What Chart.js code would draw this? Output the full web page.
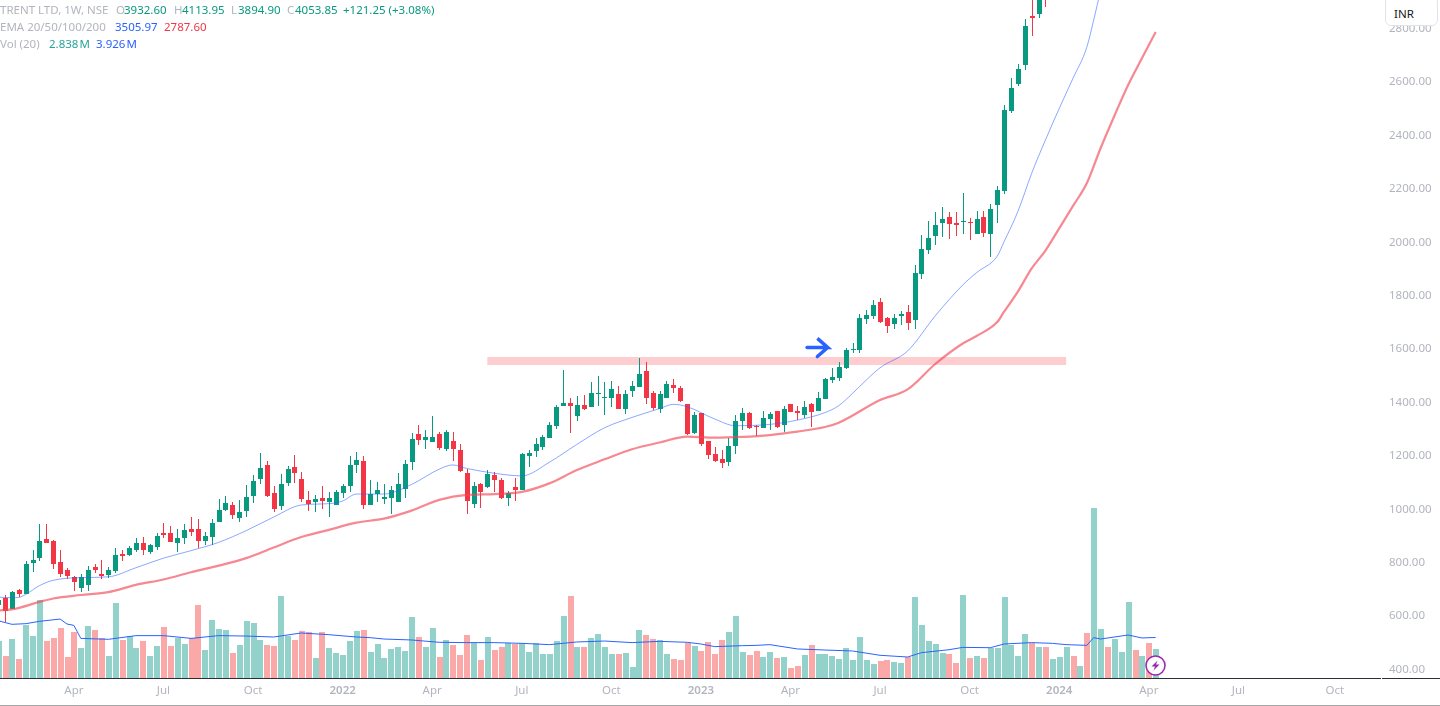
<!DOCTYPE html>
<html>
<head>
<meta charset="utf-8">
<title>TRENT LTD 1W</title>
<script src="https://cdn.jsdelivr.net/npm/chart.js@4"></script>
<style>
    html, body { margin: 0; padding: 0; background: #fff; overflow: hidden; }
    #wrap { position: relative; width: 1440px; height: 706px; font-family: "Noto Sans", sans-serif; }
    canvas { position: absolute; left: 0; top: 0; }
    .lg { position: absolute; font-size: 11.5px; line-height: 16px; white-space: nowrap; color: #b2b5be; }
    .g { color: #089981; }
    .t { color: #26a69a; word-spacing: -2px; }
    .b { color: #2962ff; word-spacing: -2px; }
    .r { color: #f23645; }
    #inr { position: absolute; left: 1385px; top: -4px; width: 51px; height: 28px; background: #fff; border: 1px solid #e0e3eb;
           border-radius: 6px; font-size: 11.5px; line-height: 34px; color: #131722; text-indent: 8px; }
    .rule { position: absolute; height: 1px; background: #2a2e39; top: 678px; }
    #foot { position: absolute; left: 0; top: 705px; width: 1440px; height: 1px; background: #a8a8a8; }
    #bolt { position: absolute; left: 1145px; top: 655px; }
</style>
</head>
<body>
<div id="wrap">
    <canvas id="grafico" width="1440" height="706"></canvas>

    <span class="lg" style="left:0;top:2px">TRENT LTD, 1W, NSE</span>
    <span class="lg" style="left:116px;top:2px">O</span><span class="lg g" style="left:124px;top:2px">3932.60</span>
    <span class="lg" style="left:174px;top:2px">H</span><span class="lg g" style="left:182px;top:2px">4113.95</span>
    <span class="lg" style="left:231px;top:2px">L</span><span class="lg g" style="left:238px;top:2px">3894.90</span>
    <span class="lg" style="left:287px;top:2px">C</span><span class="lg g" style="left:295px;top:2px">4053.85</span>
    <span class="lg g" style="left:343px;top:2px">+121.25 (+3.08%)</span>

    <span class="lg" style="left:0;top:19px">EMA 20/50/100/200</span>
    <span class="lg b" style="left:115px;top:19px">3505.97</span>
    <span class="lg r" style="left:164px;top:19px">2787.60</span>

    <span class="lg" style="left:0;top:36px">Vol (20)</span>
    <span class="lg t" style="left:49px;top:36px">2.838 M</span>
    <span class="lg b" style="left:96px;top:36px">3.926 M</span>

    <div id="inr">INR</div>
    <div class="rule" style="left:0;width:1381px"></div>
    <div class="rule" style="left:1382px;width:58px"></div>
    <div id="foot"></div>

    <svg id="bolt" width="21" height="21" viewBox="0 0 21 21">
        <circle cx="10.5" cy="10.5" r="9.5" fill="#fff" stroke="#9c27b0" stroke-width="1.6"/>
        <path d="M12.5 5.5 L6.5 11.5 H10 L8.5 15.5 L14.5 9.5 H11 Z" fill="#9c27b0"/>
    </svg>
</div>

<script>
// weekly candles, oldest first. null = week is above the top of the picture
const opens = [
    641, 668, 626, 698, 683, 799, 817, 888, 881, 802,
    772, 746, 705, 716, 784, 757, 754, 769, 832, 829,
    847, 873, 840, 859, 911, 911, 873, 892, 926, 926,
    881, 896, 952, 997, 1016, 967, 993, 1049, 1113, 1166,
    1061, 1012, 1098, 1158, 1113, 1035, 1027, 1042, 1027, 1016,
    1061, 1087, 1166, 1181, 1016, 1057, 1039, 1042, 1027, 1076,
    1177, 1282, 1259, 1252, 1282, 1226, 1256, 1222, 1136, 1020,
    1095, 1084, 1128, 1110, 1042, 1084, 1072, 1200, 1218, 1233,
    1267, 1312, 1387, 1398, 1349, 1391, 1383, 1432, 1417, 1417,
    1432, 1376, 1443, 1458, 1518, 1436, 1376, 1417, 1466, 1454,
    1394, 1286, 1361, 1256, 1207, 1188, 1177, 1237, 1331, 1361,
    1311, 1305, 1338, 1368, 1316, 1394, 1368, 1353, 1394, 1368,
    1413, 1484, 1492, 1529, 1597, 1597, 1713, 1724, 1776, 1716,
    1694, 1724, 1739, 1709, 1881, 1971, 2023, 2072, 2094, 2072,
    2076, 2076, 2031, 2094, 2031, 2139, 2192, 2491, 2593, 2664,
    2847, 2855, 3030, null, null, null, null, null, null, null,
    null, null, null, null, null, null, null, null, 3932.60
];
const highs = [
    672, 679, 694, 701, 807, 847, 945, 945, 885, 847,
    780, 750, 757, 787, 795, 810, 784, 855, 847, 862,
    892, 896, 870, 911, 948, 937, 926, 945, 971, 963,
    915, 963, 1038, 1049, 1027, 1034, 1091, 1128, 1210, 1180,
    1087, 1132, 1162, 1203, 1140, 1069, 1054, 1087, 1065, 1072,
    1095, 1200, 1215, 1200, 1110, 1102, 1095, 1087, 1136, 1185,
    1286, 1316, 1297, 1349, 1289, 1297, 1289, 1245, 1151, 1102,
    1098, 1147, 1140, 1117, 1069, 1117, 1211, 1222, 1267, 1278,
    1327, 1391, 1522, 1417, 1424, 1428, 1477, 1499, 1477, 1480,
    1462, 1447, 1480, 1567, 1552, 1443, 1443, 1480, 1488, 1462,
    1394, 1364, 1361, 1256, 1233, 1222, 1267, 1353, 1379, 1364,
    1316, 1368, 1364, 1368, 1387, 1394, 1387, 1406, 1398, 1439,
    1492, 1529, 1552, 1604, 1623, 1731, 1746, 1784, 1791, 1720,
    1731, 1743, 1765, 1915, 2027, 2079, 2113, 2132, 2113, 2113,
    2184, 2091, 2117, 2117, 2143, 2211, 2514, 2615, 2667, 2836,
    2930, 2960, 3050, null, null, null, null, null, null, null,
    null, null, null, null, null, null, null, null, 4113.95
];
const lows = [
    630, 578, 626, 673, 683, 765, 806, 873, 776, 746,
    739, 694, 690, 694, 761, 739, 742, 761, 806, 825,
    840, 829, 832, 847, 892, 877, 840, 870, 900, 855,
    866, 866, 952, 993, 963, 952, 971, 1023, 1094, 1046,
    990, 997, 1087, 1098, 1027, 994, 990, 1001, 971, 1016,
    1042, 1065, 1136, 1001, 1016, 1027, 1020, 982, 1027, 1042,
    1147, 1241, 1226, 1252, 1222, 1218, 1181, 1140, 982, 1005,
    1005, 1080, 1065, 1039, 1012, 1031, 1072, 1158, 1196, 1222,
    1267, 1301, 1387, 1286, 1331, 1372, 1383, 1387, 1353, 1383,
    1376, 1357, 1421, 1458, 1394, 1372, 1361, 1417, 1436, 1402,
    1278, 1282, 1237, 1188, 1177, 1155, 1162, 1207, 1297, 1301,
    1275, 1305, 1297, 1305, 1290, 1364, 1334, 1342, 1308, 1368,
    1413, 1473, 1480, 1525, 1585, 1585, 1694, 1713, 1698, 1660,
    1675, 1690, 1671, 1675, 1862, 1956, 1990, 2020, 2012, 2023,
    2031, 2008, 2031, 2020, 1945, 2072, 2181, 2484, 2585, 2645,
    2772, 2840, 2881, null, null, null, null, null, null, null,
    null, null, null, null, null, null, null, null, 3894.90
];
const closes = [
    660, 620, 690, 683, 795, 810, 881, 873, 795, 757,
    750, 727, 746, 772, 772, 750, 772, 829, 825, 855,
    873, 847, 866, 900, 903, 877, 892, 922, 915, 881,
    900, 948, 997, 1023, 978, 990, 1046, 1106, 1154, 1049,
    1001, 1094, 1151, 1136, 1039, 1020, 1039, 1031, 1042, 1065,
    1087, 1166, 1185, 1016, 1057, 1072, 1046, 1072, 1095, 1170,
    1263, 1259, 1271, 1271, 1230, 1289, 1226, 1143, 1031, 1087,
    1065, 1132, 1110, 1042, 1061, 1072, 1207, 1211, 1245, 1271,
    1316, 1383, 1398, 1387, 1391, 1376, 1436, 1436, 1421, 1451,
    1376, 1432, 1462, 1507, 1417, 1379, 1432, 1469, 1454, 1406,
    1282, 1353, 1245, 1203, 1181, 1173, 1237, 1331, 1361, 1305,
    1307, 1342, 1357, 1308, 1376, 1364, 1361, 1383, 1364, 1417,
    1488, 1495, 1533, 1597, 1600, 1716, 1728, 1765, 1701, 1686,
    1716, 1731, 1698, 1885, 1975, 2016, 2065, 2087, 2068, 2065,
    2079, 2072, 2087, 2035, 2124, 2196, 2495, 2578, 2649, 2810,
    2840, 2940, 2960, null, null, null, null, null, null, null,
    null, null, null, null, null, null, null, null, 4053.85
];

// volume in millions, one per week
const volumes = [
    3.63, 2.21, 3.81, 1.92, 5.14, 4.10, 7.50, 3.63, 3.91, 4.86,
    2.11, 4.48, 2.96, 5.04, 4.67, 3.91, 2.21, 7.22, 3.72, 4.10,
    2.96, 3.63, 2.21, 3.15, 4.95, 3.15, 3.91, 3.34, 3.91, 7.03,
    2.77, 5.61, 4.76, 4.67, 2.49, 3.25, 5.52, 5.33, 3.72, 3.25,
    3.15, 7.88, 4.10, 3.72, 4.57, 4.48, 2.02, 4.48, 2.96, 2.49,
    2.30, 3.63, 4.57, 4.67, 2.59, 3.34, 2.02, 2.87, 3.06, 2.68,
    5.89, 4.00, 3.06, 4.86, 2.11, 3.72, 3.25, 2.30, 4.19, 3.44,
    1.83, 4.00, 2.77, 3.06, 3.44, 3.34, 3.44, 2.59, 3.44, 2.39,
    2.39, 3.63, 5.99, 7.88, 3.06, 3.06, 3.91, 4.29, 3.06, 2.39,
    2.39, 2.49, 1.17, 4.67, 4.19, 3.81, 3.72, 2.39, 1.92, 1.83,
    3.44, 3.15, 2.68, 3.53, 2.39, 3.72, 4.48, 5.99, 2.59, 2.30,
    2.68, 2.11, 2.59, 2.02, 2.11, 1.07, 1.26, 2.30, 3.25, 2.39,
    2.39, 2.21, 1.92, 2.96, 1.83, 4.00, 1.83, 1.45, 1.73, 1.83,
    1.64, 1.54, 2.11, 7.78, 5.14, 3.63, 3.34, 2.49, 2.39, 1.54,
    7.97, 2.02, 2.21, 2.02, 2.96, 2.96, 7.78, 3.25, 2.21, 4.29,
    3.44, 3.06, 3.06, 1.92, 2.11, 3.06, 2.21, 1.26, 4.38, 16.2,
    4.76, 3.06, 3.81, 2.59, 7.31, 2.77, 2.21, 3.44, 2.84
];
// weeks whose volume bar is red
const downWeeks = [
    1, 3, 7, 8, 9, 10, 11, 14, 15, 18, 21, 24, 25, 28, 29, 34, 39, 40, 43, 44, 45, 47, 53, 61, 64, 66, 67, 68, 70, 72,
    73, 75, 83, 85, 90, 94, 95, 98, 99, 100, 102, 103, 104, 105, 109, 110, 113, 115, 116, 118, 128, 129, 132, 138, 139,
    141, 143, 150, 152, 156, 158, 161, 165, 167
];

const emaFastWeeks = [0, 2, 3, 4, 6, 8, 12, 16, 20, 24, 28, 32, 36, 40, 44, 48, 50, 52, 56, 60, 64, 66, 68, 72, 76, 80, 84, 88, 92, 96, 98, 100, 104, 107, 112, 116, 120, 122, 124, 126, 128, 132, 136, 140, 142, 145, 146, 148, 150, 152, 154, 156, 158, 159, 160, 168];
const emaFast = [671, 669, 670, 681, 714, 734, 744, 747, 781, 817, 845, 876, 920, 971, 1016, 1021, 1031, 1057, 1057, 1093, 1150, 1166, 1153, 1135, 1125, 1176, 1243, 1305, 1344, 1377, 1393, 1384, 1338, 1313, 1318, 1334, 1362, 1388, 1434, 1484, 1530, 1593, 1724, 1840, 1886, 1948, 2002, 2115, 2258, 2383, 2501, 2614, 2730, 2832, 2938, 3505.97];

// EMA 200
const emaSlowWeeks = [0, 2, 6, 8, 12, 16, 20, 24, 28, 32, 36, 40, 44, 48, 52, 56, 60, 64, 68, 72, 76, 80, 84, 88, 92, 96, 100, 104, 108, 112, 116, 120, 122, 128, 132, 136, 140, 142, 145, 146, 148, 150, 152, 154, 156, 158, 160, 162, 164, 166, 168];
const emaSlow = [621, 625, 653, 666, 679, 690, 717, 737, 764, 789, 817, 857, 896, 923, 950, 965, 995, 1035, 1054, 1057, 1065, 1097, 1147, 1187, 1225, 1250, 1272, 1268, 1271, 1278, 1291, 1308, 1324, 1409, 1449, 1544, 1621, 1649, 1701, 1740, 1815, 1902, 1969, 2052, 2136, 2221, 2352, 2473, 2589, 2689, 2787.60];

// Vol 20 average, millions
const volMaWeeks = [0, 2, 4, 6, 9, 10, 11, 12, 16, 20, 24, 28, 32, 36, 40, 44, 48, 52, 54, 56, 60, 64, 68, 72, 76, 80, 84, 88, 92, 96, 100, 102, 104, 108, 110, 112, 116, 120, 124, 128, 132, 134, 138, 140, 144, 146, 150, 153, 155, 158, 159, 160, 164, 166, 168];
const volMa = [5.51, 5.17, 5.23, 5.45, 5.67, 5.20, 5.07, 3.84, 3.75, 4.10, 4.10, 3.84, 4.10, 4.06, 3.97, 4.35, 4.19, 3.97, 3.91, 3.78, 3.69, 3.47, 3.44, 3.44, 3.37, 3.25, 3.50, 3.59, 3.44, 3.56, 3.47, 3.31, 3.06, 3.15, 3.18, 3.25, 2.84, 2.74, 2.65, 2.24, 2.08, 2.49, 2.77, 2.99, 2.96, 3.31, 3.44, 3.37, 3.25, 3.18, 3.91, 3.78, 4.16, 3.88, 3.926];

// resistance band and the arrow pointing at the breakout
const zoneWeeks = [71, 155];
const zonePrice = [1555, 1555];
const arrowWeeks = [117.4, 120.4, 118.9, 120.4, 118.9];
const arrowPrices = [1606, 1606, 1640, 1606, 1572];

// bottom and right axes
const xTickWeeks = [11, 24, 37, 50, 63, 76, 89, 102, 115, 128, 141, 154, 167, 180, 194];
const xTickLabels = ['Apr', 'Jul', 'Oct', '2022', 'Apr', 'Jul', 'Oct', '2023', 'Apr', 'Jul', 'Oct', '2024', 'Apr', 'Jul', 'Oct'];
const yTicks = [400, 600, 800, 1000, 1200, 1400, 1600, 1800, 2000, 2200, 2400, 2600, 2800];

const VERDE = '#089981';
const VERMELHO = '#f23645';
const VOL_VERDE = '#92d2ca';
const VOL_VERMELHO = '#faa8a8';
const CINZA = '#b2b5be';

const semanas = opens.map((v, i) => i).filter(i => opens[i] !== null);
const corCandle = semanas.map(i => (closes[i] >= opens[i] ? VERDE : VERMELHO));

const pontos = (xs, ys) => xs.map((x, i) => ({ x: x, y: ys[i] }));

// snap bars to whole pixels, otherwise the 1px wicks come out blurry
const snapBars = {
    id: 'snapBars',
    afterDatasetsUpdate(chart) {
        chart.getSortedVisibleDatasetMetas().forEach(meta => {
            if (meta.type !== 'bar') return;
            meta.data.forEach(el => {
                const odd = Math.round(el.width) % 2 === 1;
                el.x = odd ? Math.floor(el.x + 0.5) + 0.5 : Math.round(el.x + 0.5);
                el.y = Math.round(el.y);
                el.base = Math.round(el.base);
                if (el.base === el.y) el.base = el.y + 1;
            });
        });
    }
};

new Chart(document.getElementById('grafico').getContext('2d'), {
    type: 'bar',
    plugins: [snapBars],
    data: {
        datasets: [
            {
                label: 'Vol',
                yAxisID: 'yVol',
                order: 7,
                grouped: false,
                barThickness: 6,
                inflateAmount: 0,
                data: volumes.map((v, i) => ({ x: i, y: v })),
                backgroundColor: volumes.map((v, i) => (downWeeks.includes(i) ? VOL_VERMELHO : VOL_VERDE)),
            },
            {
                type: 'line',
                label: 'Vol MA',
                yAxisID: 'yVol',
                order: 6,
                data: pontos(volMaWeeks, volMa),
                borderColor: '#2962ff',
                borderWidth: 1,
                pointRadius: 0,
            },
            {
                type: 'line',
                label: 'Zona',
                yAxisID: 'y',
                order: 5,
                data: pontos(zoneWeeks, zonePrice),
                borderColor: '#fdcdd0',
                borderWidth: 8,
                borderCapStyle: 'butt',
                pointRadius: 0,
            },
            {
                label: 'Pavio',
                yAxisID: 'y',
                order: 4,
                grouped: false,
                barThickness: 1,
                inflateAmount: 0,
                data: semanas.map(i => ({ x: i, y: [lows[i], highs[i]] })),
                backgroundColor: corCandle,
            },
            {
                label: 'Corpo',
                yAxisID: 'y',
                order: 3,
                grouped: false,
                barThickness: 5,
                inflateAmount: 0,
                data: semanas.map(i => ({ x: i, y: [opens[i], closes[i]] })),
                backgroundColor: corCandle,
            },
            {
                type: 'line',
                label: 'EMA 20',
                yAxisID: 'y',
                order: 2,
                data: pontos(emaFastWeeks, emaFast),
                borderColor: 'rgba(41, 98, 255, 0.55)',
                borderWidth: 1,
                cubicInterpolationMode: 'monotone',
                pointRadius: 0,
            },
            {
                type: 'line',
                label: 'EMA 200',
                yAxisID: 'y',
                order: 2,
                data: pontos(emaSlowWeeks, emaSlow),
                borderColor: 'rgba(242, 70, 85, 0.65)',
                borderWidth: 2.2,
                cubicInterpolationMode: 'monotone',
                pointRadius: 0,
            },
            {
                type: 'line',
                label: 'Seta',
                yAxisID: 'y',
                order: 1,
                data: pontos(arrowWeeks, arrowPrices),
                borderColor: '#2962ff',
                borderWidth: 3.5,
                borderCapStyle: 'round',
                borderJoinStyle: 'miter',
                pointRadius: 0,
            },
        ]
    },
    options: {
        responsive: false,
        animation: false,
        events: [],
        layout: { padding: 0 },
        plugins: { legend: { display: false }, tooltip: { enabled: false } },
        scales: {
            x: {
                type: 'linear',
                offset: false,
                min: 0.274,
                max: 200.7,
                grid: { display: false, drawTicks: false },
                border: { display: false },
                afterBuildTicks: scale => { scale.ticks = xTickWeeks.map(v => ({ value: v })); },
                afterFit: scale => {
                    scale.height = 27;
                    scale.paddingLeft = 0;
                    scale.paddingRight = 0;
                },
                ticks: {
                    autoSkip: false,
                    maxRotation: 0,
                    padding: 5,
                    color: CINZA,
                    font: ctx => ({
                        family: '"Noto Sans", sans-serif',
                        size: 11.5,
                        weight: ctx.tick && /^\d/.test(ctx.tick.label) ? '600' : '400',
                    }),
                    callback: value => xTickLabels[xTickWeeks.indexOf(value)],
                },
            },
            y: {
                position: 'right',
                min: 364.4,
                max: 2907.2,
                grid: { display: false, drawTicks: false },
                border: { display: false },
                afterBuildTicks: scale => { scale.ticks = yTicks.map(v => ({ value: v })); },
                afterFit: scale => {
                    scale.width = 59;
                    scale.paddingTop = 0;
                    scale.paddingBottom = 0;
                },
                ticks: {
                    autoSkip: false,
                    padding: 8,
                    color: CINZA,
                    font: { family: '"Noto Sans", sans-serif', size: 11.5 },
                    callback: value => value.toFixed(2),
                },
            },
            yVol: {
                display: false,
                min: 0,
                max: 64.2,
            },
        }
    }
});
</script>
</body>
</html>
